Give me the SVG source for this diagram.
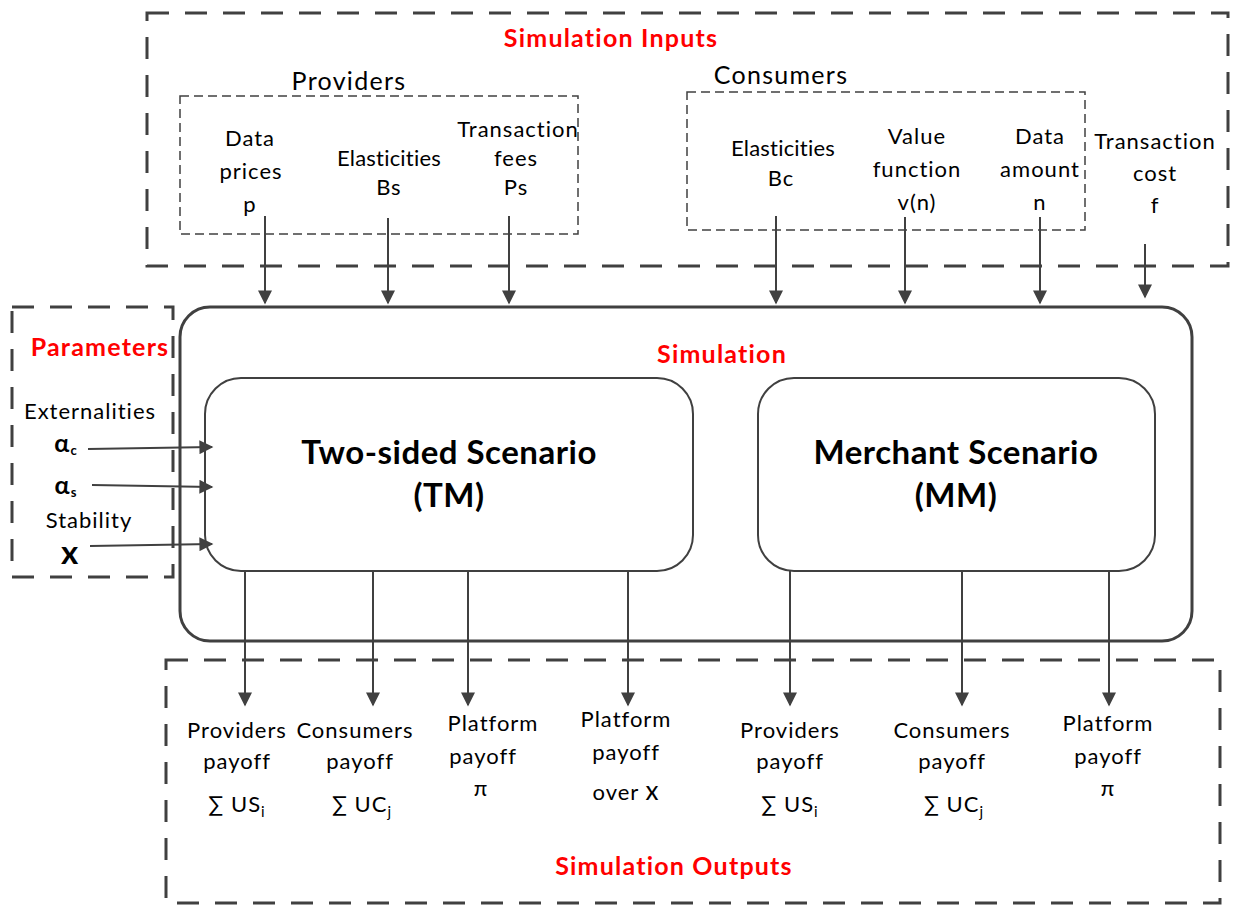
<svg xmlns="http://www.w3.org/2000/svg" width="1240" height="906" viewBox="0 0 1240 906">
  <defs>
    <marker id="arrow" viewBox="0 0 10 10" refX="9" refY="5" markerWidth="15" markerHeight="14" markerUnits="userSpaceOnUse" orient="auto">
      <path d="M0,0 L10,5 L0,10 Z" fill="#404040"/>
    </marker>
    <style>
      .outer { fill: none; stroke: #404040; stroke-width: 3; stroke-dasharray: 22 16; }
      .inner { fill: none; stroke: #404040; stroke-width: 1.5; stroke-dasharray: 9 5; }
      .sim { fill: #fff; stroke: #404040; stroke-width: 3; }
      .scen { fill: #fff; stroke: #404040; stroke-width: 2; }
      .t { font-family: Lato, "Liberation Sans", sans-serif; font-size: 22px; letter-spacing: 1px; fill: #000; text-anchor: middle; }
      .head { font-size: 25px; letter-spacing: 1.3px; }
      .narrow { letter-spacing: 0.2px; }
      .greek { font-size: 25px; font-weight: bold; }
      .var { font-size: 33px; font-weight: bold; }
      .red { font-family: Lato, "Liberation Sans", sans-serif; font-size: 25px; letter-spacing: 1.2px; font-weight: bold; fill: #ff0000; text-anchor: middle; }
      .big { font-family: Lato, "Liberation Sans", sans-serif; font-size: 33px; letter-spacing: 0.5px; font-weight: bold; fill: #000; text-anchor: middle; }
      .conn line { stroke: #404040; stroke-width: 2; marker-end: url(#arrow); }
    </style>
  </defs>
  <rect width="1240" height="906" fill="#fff"/>

  <!-- input block -->
  <g id="inputs">
    <rect class="outer" x="147" y="13" width="1081" height="253"/>
    <text class="red" x="611" y="47">Simulation Inputs</text>
  </g>
  <g id="providers">
    <rect class="inner" x="180" y="96" width="398" height="138"/>
    <text class="t head" x="349" y="90">Providers</text>
    <text class="t" x="250" y="146">Data</text>
    <text class="t" x="251" y="179">prices</text>
    <text class="t" x="250" y="212">p</text>
    <text class="t narrow" x="389" y="166">Elasticities</text>
    <text class="t" x="389" y="195">Bs</text>
    <text class="t" x="518" y="137">Transaction</text>
    <text class="t" x="516" y="166">fees</text>
    <text class="t" x="516" y="195">Ps</text>
  </g>
  <g id="consumers">
    <rect class="inner" x="687" y="92" width="398" height="138"/>
    <text class="t head" x="781" y="84">Consumers</text>
    <text class="t narrow" x="783" y="156">Elasticities</text>
    <text class="t" x="781" y="186">Bc</text>
    <text class="t" x="917" y="144">Value</text>
    <text class="t" x="917" y="177">function</text>
    <text class="t" x="917" y="210">v(n)</text>
    <text class="t" x="1040" y="144">Data</text>
    <text class="t" x="1040" y="177">amount</text>
    <text class="t" x="1040" y="210">n</text>
  </g>
  <g id="transaction-cost">
    <text class="t" x="1155" y="149">Transaction</text>
    <text class="t" x="1155" y="181">cost</text>
    <text class="t" x="1155" y="213">f</text>
  </g>

  <!-- parameter block -->
  <g id="parameters">
    <rect class="outer" x="12" y="307" width="161" height="270"/>
    <text class="red" x="100" y="356">Parameters</text>
    <text class="t" x="90" y="419">Externalities</text>
    <text class="t greek" x="66" y="452">α<tspan font-size="13" dy="3">c</tspan></text>
    <text class="t greek" x="66" y="494">α<tspan font-size="13" dy="3">s</tspan></text>
    <text class="t" x="89" y="528">Stability</text>
    <text class="t var" x="70" y="564">x</text>
  </g>

  <!-- simulation core -->
  <g id="simulation">
    <rect class="sim" x="180" y="307" width="1012" height="334" rx="30"/>
    <text class="red" x="722" y="363">Simulation</text>
  </g>
  <g id="two-sided">
    <rect class="scen" x="205" y="378" width="488" height="193" rx="36"/>
    <text class="big" x="449" y="464">Two-sided Scenario</text>
    <text class="big" x="449" y="507">(TM)</text>
  </g>
  <g id="merchant">
    <rect class="scen" x="758" y="378" width="397" height="193" rx="36"/>
    <text class="big" x="956" y="464">Merchant Scenario</text>
    <text class="big" x="956" y="507">(MM)</text>
  </g>

  <!-- output block -->
  <g id="outputs">
    <rect class="outer" x="166" y="660" width="1054" height="243"/>
    <text class="red" x="674" y="875">Simulation Outputs</text>
  </g>
  <g id="tm-outputs">
    <text class="t" x="237" y="738">Providers</text>
    <text class="t" x="237" y="769">payoff</text>
    <text class="t" x="237" y="812">∑ US<tspan font-size="15" dy="5">i</tspan></text>
    <text class="t" x="355" y="738">Consumers</text>
    <text class="t" x="360" y="769">payoff</text>
    <text class="t" x="362" y="812">∑ UC<tspan font-size="15" dy="5">j</tspan></text>
    <text class="t" x="493" y="731">Platform</text>
    <text class="t" x="483" y="764">payoff</text>
    <text class="t" x="481" y="796">π</text>
    <text class="t" x="626" y="727">Platform</text>
    <text class="t" x="626" y="760">payoff</text>
    <text class="t" x="626" y="800">over <tspan font-size="26">x</tspan></text>
  </g>
  <g id="mm-outputs">
    <text class="t" x="790" y="738">Providers</text>
    <text class="t" x="790" y="769">payoff</text>
    <text class="t" x="790" y="812">∑ US<tspan font-size="15" dy="5">i</tspan></text>
    <text class="t" x="952" y="738">Consumers</text>
    <text class="t" x="952" y="769">payoff</text>
    <text class="t" x="954" y="812">∑ UC<tspan font-size="15" dy="5">j</tspan></text>
    <text class="t" x="1108" y="731">Platform</text>
    <text class="t" x="1108" y="764">payoff</text>
    <text class="t" x="1108" y="796">π</text>
  </g>

  <!-- connectors -->
  <g id="connectors" class="conn">
    <line x1="265" y1="216" x2="265" y2="303"/>
    <line x1="388" y1="218" x2="388" y2="303"/>
    <line x1="509" y1="216" x2="509" y2="303"/>
    <line x1="776" y1="216" x2="776" y2="303"/>
    <line x1="905" y1="217" x2="905" y2="303"/>
    <line x1="1040" y1="217" x2="1040" y2="303"/>
    <line x1="1145" y1="244" x2="1145" y2="297"/>
    <line x1="88" y1="449" x2="212" y2="447"/>
    <line x1="92" y1="485" x2="212" y2="487"/>
    <line x1="90" y1="546" x2="212" y2="544"/>
    <line x1="245" y1="571" x2="245" y2="705"/>
    <line x1="373" y1="571" x2="373" y2="705"/>
    <line x1="468" y1="571" x2="468" y2="705"/>
    <line x1="628" y1="571" x2="628" y2="705"/>
    <line x1="790" y1="571" x2="790" y2="705"/>
    <line x1="962" y1="571" x2="962" y2="705"/>
    <line x1="1109" y1="571" x2="1109" y2="705"/>
  </g>
</svg>
